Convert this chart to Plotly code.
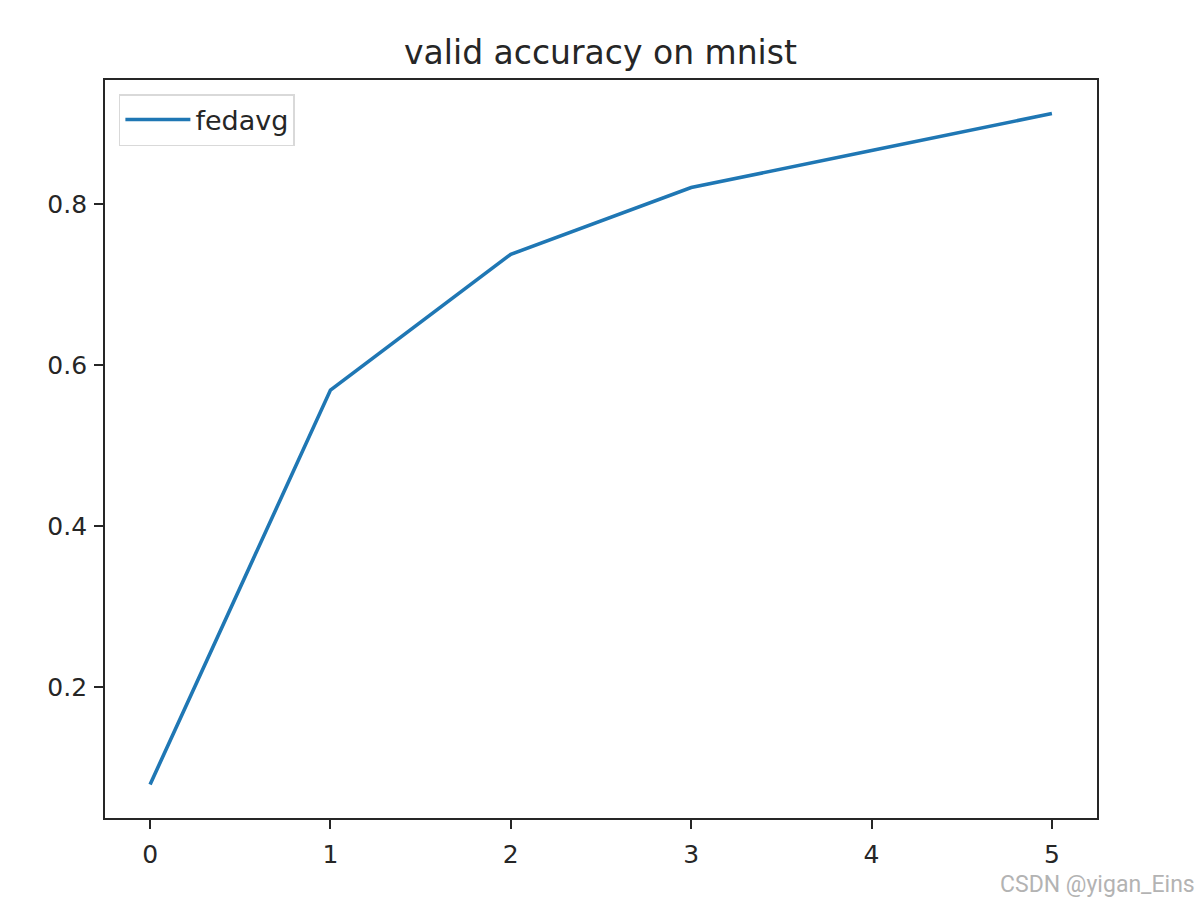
import plotly.graph_objects as go

rounds = [0, 1, 2, 3, 4, 5]
accuracy = [0.0785, 0.569, 0.738, 0.821, 0.867, 0.913]
series_name = "fedavg"
title_text = "valid accuracy on mnist"
x_ticks = [0, 1, 2, 3, 4, 5]
y_ticks = [0.2, 0.4, 0.6, 0.8]

FONT = "DejaVu Sans"

fig = go.Figure()
fig.add_trace(go.Scatter(x=rounds, y=accuracy, mode="lines", name=series_name,
                         line=dict(color="#1f77b4", width=3.6)))

fig.update_layout(
    width=1201, height=906,
    margin=dict(l=105, r=104, t=80, b=88),
    paper_bgcolor="white", plot_bgcolor="white",
    font=dict(family=FONT, size=25, color="#262626"),
    title=dict(text=title_text, x=0.5, xanchor="center", y=1 - 52/906, yanchor="middle",
               font=dict(family=FONT, size=33, color="#262626")),
    showlegend=True,
    legend=dict(x=0.014, y=0.981, xanchor="left", yanchor="top", itemwidth=65,
                bgcolor="rgba(255,255,255,0.8)", bordercolor="#d9d9d9", borderwidth=1.5,
                font=dict(family=FONT, size=27, color="#262626")),
)
fig.update_xaxes(range=[-0.25, 5.25], tickvals=x_ticks, ticktext=[str(v) for v in x_ticks],
                 showgrid=False, zeroline=False, showline=True, linecolor="#262626", linewidth=1.8,
                 mirror=True, ticks="outside", ticklen=9, tickwidth=1.8, tickcolor="#262626",
                 ticklabelstandoff=4)
fig.update_yaxes(range=[0.0368, 0.9547], tickvals=y_ticks, ticktext=[f"{v:.1f}" for v in y_ticks],
                 showgrid=False, zeroline=False, showline=True, linecolor="#262626", linewidth=1.8,
                 mirror=True, ticks="outside", ticklen=9, tickwidth=1.8, tickcolor="#262626",
                 ticklabelstandoff=2)

fig.add_annotation(text="CSDN @yigan_Eins", xref="paper", yref="paper",
                   x=1 + 100/992, y=-(885-818)/738, xanchor="right", yanchor="middle",
                   showarrow=False, font=dict(family="Roboto", size=23, color="#b3b3b3"))

fig.write_html("out.html", config={"displayModeBar": False},
               post_script="document.body.style.margin='0';document.body.style.overflow='hidden';")
